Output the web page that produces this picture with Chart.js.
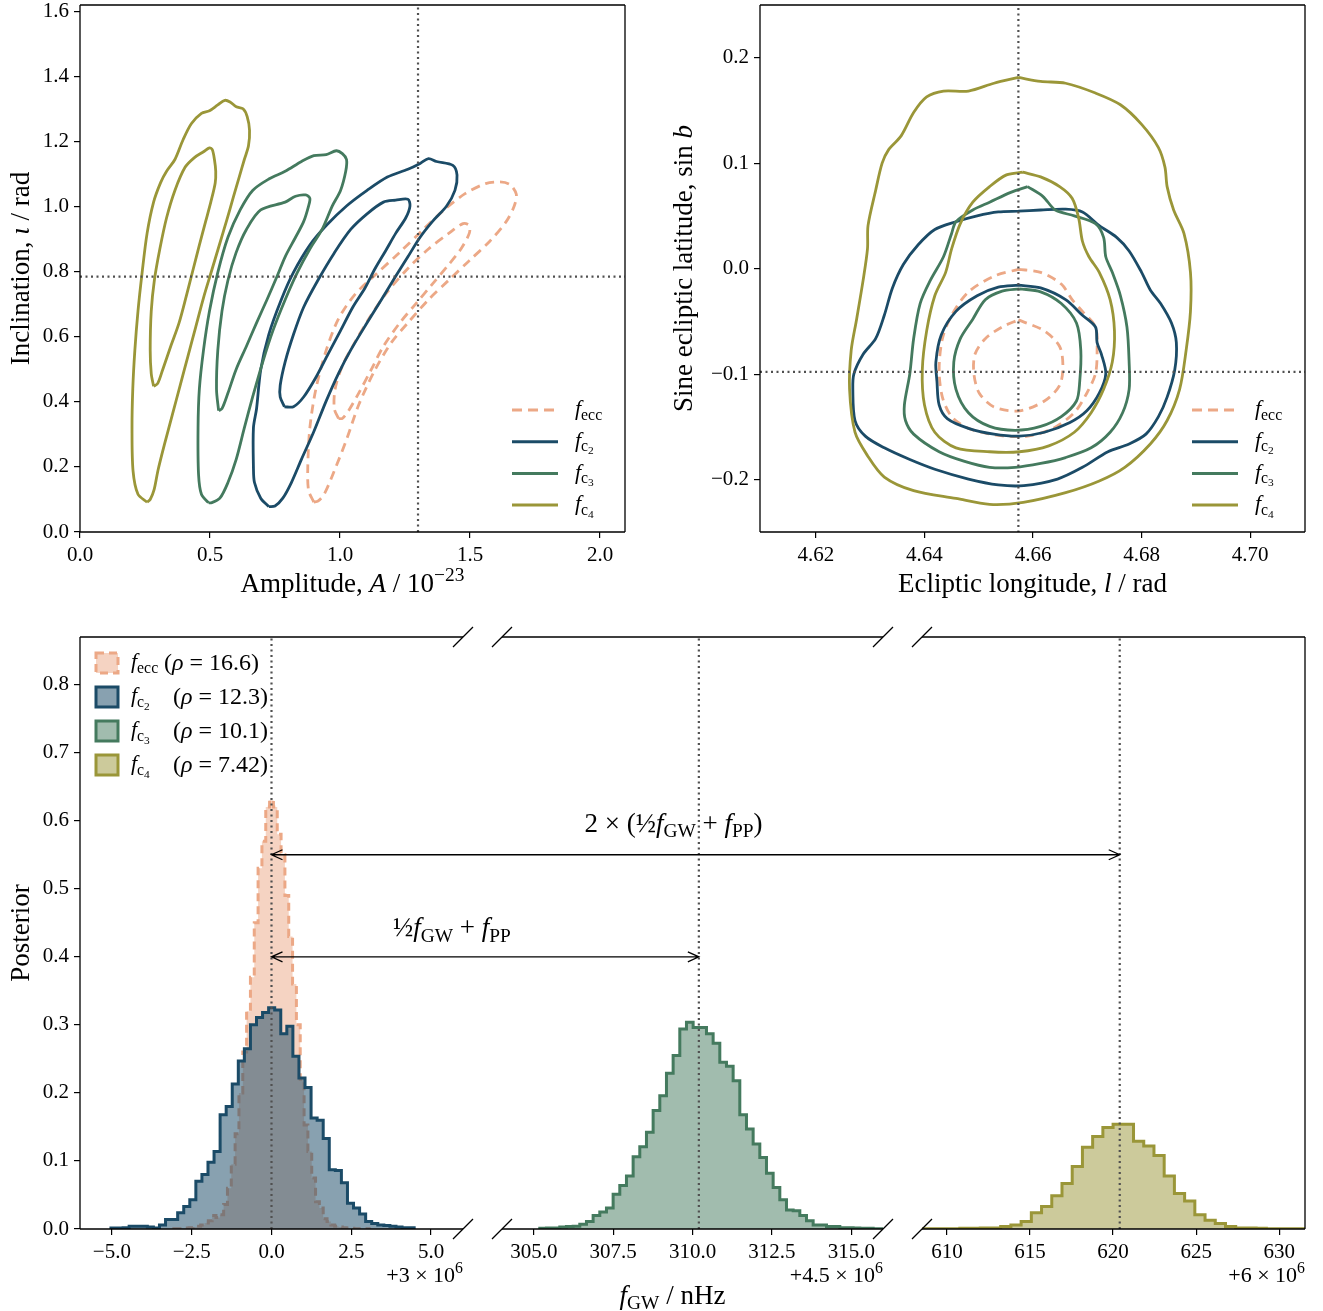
<!DOCTYPE html>
<html>
<head>
<meta charset="utf-8">
<script src="https://cdn.jsdelivr.net/npm/chart.js@4.4.1/dist/chart.umd.min.js"></script>
<style>
  body { margin: 0; background: #fff; }
  #wrap { position: relative; width: 1323px; height: 1311px; }
  canvas { position: absolute; }
</style>
</head>
<body>
<div id="wrap">
  <canvas id="ampInc" width="660" height="610" style="left:0;top:0"></canvas>
  <canvas id="sky" width="663" height="610" style="left:660px;top:0"></canvas>
  <canvas id="hist1" width="480" height="691" style="left:0;top:620px"></canvas>
  <canvas id="hist2" width="420" height="691" style="left:480px;top:620px"></canvas>
  <canvas id="hist3" width="423" height="691" style="left:900px;top:620px"></canvas>
  <canvas id="overlay" width="1323" height="1311" style="left:0;top:0;pointer-events:none"></canvas>
</div>
<script>
// FONTS / COLOURS
// -----------------------------
const SERIF = "'Liberation Serif', 'DejaVu Serif', serif";
const COLORS = { ecc: '#eca886', c2: '#1b4b67', c3: '#447a5e', c4: '#9a9638' };
const FILLS = { ecc: 'rgba(236,168,134,0.5)', c2: 'rgba(27,75,103,0.52)', c3: 'rgba(68,122,94,0.5)', c4: 'rgba(154,150,56,0.5)' };

// TRUE VALUES (dotted lines)
// -----------------------------
const trueAmp = 1.3;
const trueInc = 0.785;
const trueLon = 4.6573;
const trueSinLat = -0.0976;
const trueFreq = [0.0, 310.2, 620.4];

// TICKS
// -----------------------------
const ampTicks = [0.0, 0.5, 1.0, 1.5, 2.0];
const incTicks = [0.0, 0.2, 0.4, 0.6, 0.8, 1.0, 1.2, 1.4, 1.6];
const lonTicks = [4.62, 4.64, 4.66, 4.68, 4.70];
const latTicks = [-0.2, -0.1, 0.0, 0.1, 0.2];
const postTicks = [0.0, 0.1, 0.2, 0.3, 0.4, 0.5, 0.6, 0.7, 0.8];
const freqTicks1 = [-5.0, -2.5, 0.0, 2.5, 5.0];
const freqTicks2 = [305.0, 307.5, 310.0, 312.5, 315.0];
const freqTicks3 = [610, 615, 620, 625, 630];

// CONTOURS: amplitude (1e-23) vs inclination (rad), 50% / 90% levels
// -----------------------------
const ampIncC4Outer = [[0.258,0.092],[0.223,0.116],[0.204,0.188],[0.200,0.320],[0.203,0.440],[0.211,0.559],[0.223,0.679],[0.239,0.798],[0.258,0.918],[0.283,1.014],[0.310,1.074],[0.333,1.109],[0.365,1.145],[0.396,1.205],[0.428,1.255],[0.467,1.287],[0.498,1.295],[0.530,1.313],[0.557,1.327],[0.577,1.322],[0.601,1.307],[0.627,1.301],[0.643,1.277],[0.652,1.235],[0.648,1.187],[0.632,1.145],[0.612,1.090],[0.590,1.030],[0.565,0.960],[0.535,0.880],[0.505,0.800],[0.475,0.720],[0.445,0.630],[0.415,0.540],[0.385,0.450],[0.355,0.360],[0.325,0.270],[0.300,0.190],[0.285,0.130],[0.270,0.100],[0.258,0.092]];
const ampIncC4Inner = [[0.283,0.448],[0.274,0.487],[0.270,0.559],[0.274,0.679],[0.286,0.774],[0.307,0.870],[0.333,0.966],[0.365,1.050],[0.404,1.121],[0.440,1.151],[0.475,1.169],[0.498,1.181],[0.509,1.175],[0.517,1.145],[0.522,1.109],[0.520,1.073],[0.503,1.014],[0.483,0.954],[0.459,0.882],[0.436,0.810],[0.409,0.726],[0.381,0.643],[0.349,0.571],[0.318,0.499],[0.299,0.457],[0.283,0.448]];
const ampIncC3Outer = [[0.494,0.090],[0.467,0.116],[0.456,0.176],[0.454,0.320],[0.459,0.439],[0.475,0.559],[0.498,0.679],[0.530,0.798],[0.569,0.906],[0.616,0.990],[0.664,1.050],[0.726,1.085],[0.789,1.109],[0.852,1.139],[0.899,1.157],[0.947,1.160],[0.986,1.172],[1.009,1.163],[1.025,1.145],[1.022,1.109],[1.002,1.050],[0.970,1.002],[0.931,0.930],[0.884,0.870],[0.836,0.798],[0.789,0.714],[0.742,0.619],[0.703,0.523],[0.664,0.415],[0.632,0.320],[0.601,0.224],[0.569,0.152],[0.538,0.104],[0.506,0.090],[0.494,0.090]];
const ampIncC3Inner = [[0.533,0.373],[0.525,0.439],[0.530,0.559],[0.546,0.679],[0.569,0.774],[0.600,0.858],[0.640,0.930],[0.695,0.990],[0.789,1.014],[0.829,1.032],[0.868,1.036],[0.884,1.026],[0.879,1.002],[0.860,0.954],[0.829,0.906],[0.789,0.846],[0.758,0.786],[0.719,0.714],[0.679,0.643],[0.640,0.571],[0.600,0.499],[0.569,0.427],[0.546,0.379],[0.533,0.373]];
const ampIncC2Outer = [[0.726,0.078],[0.695,0.104],[0.671,0.152],[0.667,0.200],[0.667,0.320],[0.679,0.379],[0.695,0.499],[0.726,0.607],[0.774,0.714],[0.821,0.798],[0.884,0.882],[0.947,0.942],[1.025,1.002],[1.104,1.050],[1.182,1.091],[1.261,1.115],[1.308,1.133],[1.340,1.148],[1.371,1.139],[1.434,1.127],[1.450,1.097],[1.442,1.050],[1.410,1.002],[1.355,0.954],[1.308,0.906],[1.261,0.846],[1.214,0.786],[1.159,0.714],[1.104,0.643],[1.041,0.559],[0.994,0.487],[0.947,0.403],[0.899,0.308],[0.852,0.224],[0.813,0.152],[0.780,0.104],[0.750,0.080],[0.726,0.078]];
const ampIncC2Inner = [[0.786,0.385],[0.770,0.415],[0.770,0.451],[0.789,0.523],[0.821,0.607],[0.860,0.691],[0.915,0.774],[0.978,0.858],[1.041,0.930],[1.104,0.978],[1.167,1.014],[1.214,1.020],[1.261,1.023],[1.269,1.002],[1.253,0.966],[1.214,0.918],[1.175,0.864],[1.135,0.810],[1.096,0.750],[1.049,0.691],[1.002,0.619],[0.954,0.547],[0.907,0.475],[0.860,0.415],[0.821,0.385],[0.786,0.385]];
const ampIncEccOuter = [[0.899,0.092],[0.879,0.128],[0.876,0.200],[0.884,0.320],[0.907,0.439],[0.947,0.559],[0.994,0.655],[1.057,0.730],[1.135,0.790],[1.230,0.860],[1.320,0.930],[1.400,0.990],[1.481,1.040],[1.560,1.071],[1.615,1.076],[1.654,1.068],[1.678,1.038],[1.670,1.002],[1.639,0.954],[1.576,0.894],[1.497,0.834],[1.418,0.774],[1.340,0.714],[1.261,0.643],[1.198,0.583],[1.135,0.499],[1.072,0.391],[1.025,0.284],[0.978,0.188],[0.939,0.116],[0.915,0.095],[0.899,0.092]];
const ampIncEccInner = [[0.994,0.349],[0.978,0.379],[0.981,0.439],[1.009,0.511],[1.057,0.583],[1.120,0.667],[1.182,0.738],[1.261,0.810],[1.340,0.870],[1.418,0.918],[1.473,0.948],[1.497,0.942],[1.497,0.918],[1.465,0.870],[1.418,0.822],[1.355,0.762],[1.292,0.702],[1.230,0.643],[1.167,0.571],[1.120,0.499],[1.072,0.427],[1.033,0.373],[1.009,0.349],[0.994,0.349]];

// CONTOURS: ecliptic longitude (rad) vs sine ecliptic latitude
// -----------------------------
const skyC4Outer = [[4.6573,0.1815],[4.6614,0.1778],[4.6660,0.1760],[4.6715,0.1667],[4.6761,0.1556],[4.6800,0.1370],[4.6831,0.1150],[4.6843,0.0965],[4.6847,0.0780],[4.6859,0.0558],[4.6878,0.0336],[4.6890,-0.0033],[4.6890,-0.0403],[4.6882,-0.0773],[4.6870,-0.1142],[4.6847,-0.1438],[4.6816,-0.1660],[4.6769,-0.1882],[4.6722,-0.2011],[4.6660,-0.2122],[4.6582,-0.2214],[4.6520,-0.2233],[4.6458,-0.2177],[4.6380,-0.2103],[4.6326,-0.1974],[4.6295,-0.1771],[4.6272,-0.1549],[4.6262,-0.1142],[4.6265,-0.0773],[4.6275,-0.0477],[4.6287,-0.0107],[4.6295,0.0189],[4.6296,0.0410],[4.6310,0.0743],[4.6322,0.1002],[4.6334,0.1131],[4.6357,0.1261],[4.6380,0.1482],[4.6404,0.1630],[4.6435,0.1686],[4.6481,0.1686],[4.6528,0.1760],[4.6573,0.1815]];
const skyC4Inner = [[4.6581,0.0917],[4.6614,0.0872],[4.6649,0.0780],[4.6672,0.0669],[4.6684,0.0484],[4.6691,0.0262],[4.6703,0.0115],[4.6722,-0.0033],[4.6742,-0.0292],[4.6750,-0.0588],[4.6746,-0.0884],[4.6730,-0.1142],[4.6707,-0.1364],[4.6676,-0.1549],[4.6629,-0.1678],[4.6575,-0.1734],[4.6520,-0.1734],[4.6458,-0.1697],[4.6419,-0.1549],[4.6400,-0.1290],[4.6396,-0.0957],[4.6404,-0.0588],[4.6419,-0.0255],[4.6439,-0.0033],[4.6450,0.0189],[4.6466,0.0429],[4.6489,0.0632],[4.6520,0.0780],[4.6551,0.0891],[4.6581,0.0917]];
const skyC3Outer = [[4.6590,0.0780],[4.6618,0.0688],[4.6641,0.0558],[4.6676,0.0503],[4.6715,0.0429],[4.6730,0.0299],[4.6734,0.0115],[4.6746,-0.0033],[4.6761,-0.0255],[4.6773,-0.0551],[4.6777,-0.0884],[4.6777,-0.1142],[4.6765,-0.1364],[4.6742,-0.1549],[4.6707,-0.1697],[4.6660,-0.1789],[4.6614,-0.1845],[4.6567,-0.1882],[4.6520,-0.1882],[4.6474,-0.1826],[4.6427,-0.1734],[4.6380,-0.1567],[4.6365,-0.1438],[4.6363,-0.1290],[4.6373,-0.0994],[4.6380,-0.0662],[4.6392,-0.0329],[4.6411,-0.0107],[4.6435,0.0115],[4.6450,0.0336],[4.6458,0.0447],[4.6489,0.0558],[4.6520,0.0632],[4.6559,0.0725],[4.6590,0.0780]];
const skyC3Inner = [[4.6575,-0.0189],[4.6614,-0.0218],[4.6652,-0.0329],[4.6680,-0.0514],[4.6688,-0.0773],[4.6686,-0.1068],[4.6680,-0.1253],[4.6652,-0.1401],[4.6614,-0.1494],[4.6567,-0.1531],[4.6520,-0.1494],[4.6481,-0.1364],[4.6458,-0.1142],[4.6454,-0.0884],[4.6466,-0.0662],[4.6489,-0.0477],[4.6512,-0.0292],[4.6543,-0.0211],[4.6575,-0.0189]];
const skyC2Outer = [[4.6573,0.0547],[4.6614,0.0558],[4.6660,0.0566],[4.6691,0.0540],[4.6722,0.0410],[4.6754,0.0299],[4.6777,0.0170],[4.6800,-0.0033],[4.6816,-0.0200],[4.6835,-0.0329],[4.6855,-0.0514],[4.6864,-0.0699],[4.6861,-0.0958],[4.6847,-0.1216],[4.6831,-0.1401],[4.6808,-0.1567],[4.6777,-0.1660],[4.6738,-0.1734],[4.6691,-0.1882],[4.6645,-0.1993],[4.6583,-0.2055],[4.6536,-0.2048],[4.6481,-0.1993],[4.6419,-0.1900],[4.6373,-0.1808],[4.6326,-0.1697],[4.6291,-0.1586],[4.6272,-0.1438],[4.6268,-0.1142],[4.6270,-0.0995],[4.6287,-0.0810],[4.6310,-0.0662],[4.6326,-0.0440],[4.6341,-0.0181],[4.6361,0.0041],[4.6388,0.0226],[4.6419,0.0373],[4.6458,0.0447],[4.6497,0.0503],[4.6536,0.0540],[4.6573,0.0547]];
const skyC2Inner = [[4.6573,-0.0155],[4.6614,-0.0181],[4.6660,-0.0292],[4.6691,-0.0440],[4.6715,-0.0551],[4.6718,-0.0699],[4.6726,-0.0810],[4.6734,-0.0995],[4.6722,-0.1179],[4.6699,-0.1346],[4.6668,-0.1457],[4.6621,-0.1549],[4.6575,-0.1586],[4.6528,-0.1567],[4.6481,-0.1512],[4.6442,-0.1420],[4.6427,-0.1290],[4.6423,-0.1068],[4.6421,-0.0884],[4.6431,-0.0625],[4.6458,-0.0403],[4.6497,-0.0255],[4.6536,-0.0174],[4.6573,-0.0155]];
const skyEccOuter = [[4.6573,-0.0004],[4.6614,-0.0033],[4.6652,-0.0144],[4.6672,-0.0292],[4.6691,-0.0403],[4.6715,-0.0551],[4.6718,-0.0773],[4.6715,-0.0994],[4.6699,-0.1179],[4.6676,-0.1364],[4.6637,-0.1512],[4.6590,-0.1586],[4.6536,-0.1579],[4.6481,-0.1512],[4.6450,-0.1401],[4.6433,-0.1216],[4.6427,-0.0957],[4.6433,-0.0662],[4.6450,-0.0440],[4.6481,-0.0218],[4.6528,-0.0070],[4.6573,-0.0004]];
const skyEccInner = [[4.6573,-0.0484],[4.6621,-0.0588],[4.6649,-0.0736],[4.6655,-0.0920],[4.6649,-0.1105],[4.6621,-0.1253],[4.6575,-0.1346],[4.6528,-0.1309],[4.6501,-0.1179],[4.6491,-0.0994],[4.6493,-0.0810],[4.6512,-0.0662],[4.6543,-0.0551],[4.6573,-0.0484]];

// HISTOGRAMS: f_GW posterior, bin start / width / heights
// -----------------------------
const eccBinStart = -3.06, eccBinWidth = 0.12;
const eccHist = [0.0003,0.0005,0.001,0.0015,0.002,0.003,0.004,0.006,0.009,0.012,
  0.020,0.017,0.021,0.036,0.060,0.095,0.140,0.200,0.260,0.320,
  0.370,0.450,0.530,0.570,0.620,0.630,0.620,0.580,0.550,0.490,
  0.430,0.360,0.300,0.220,0.153,0.114,0.075,0.040,0.031,0.015,
  0.011,0.006,0.004,0.003,0.002,0.0015,0.001,0.0005,0.0005,0.0003,0.0003];
const c2BinStart = -5.03, c2BinWidth = 0.19;
const c2Hist = [0.0015,0.0015,0.002,0.004,0.004,0.004,0.003,0.0015,0.006,0.014,
  0.014,0.024,0.033,0.043,0.070,0.080,0.098,0.114,0.168,0.180,
  0.213,0.247,0.265,0.300,0.311,0.318,0.325,0.322,0.287,0.298,
  0.254,0.222,0.208,0.163,0.160,0.133,0.087,0.086,0.068,0.038,
  0.031,0.022,0.011,0.008,0.006,0.005,0.004,0.003,0.002,0.002];
const c3BinStart = 305.19, c3BinWidth = 0.21;
const c3Hist = [0.001,0.0015,0.0015,0.003,0.0035,0.004,0.007,0.011,0.020,0.025,
  0.031,0.051,0.064,0.078,0.106,0.121,0.142,0.174,0.196,0.229,
  0.255,0.294,0.304,0.296,0.296,0.287,0.273,0.245,0.239,0.218,
  0.168,0.147,0.125,0.105,0.082,0.061,0.043,0.028,0.027,0.020,
  0.012,0.006,0.006,0.0035,0.0035,0.002,0.002,0.0015,0.001,0.001,
  0.0005,0.0005];
const c4BinStart = 608.315, c4BinWidth = 0.615;
const c4Hist = [0.0003,0.0005,0.0005,0.0005,0.001,0.001,0.0015,0.0015,0.0035,0.006,
  0.011,0.024,0.033,0.049,0.067,0.092,0.120,0.136,0.149,0.154,
  0.154,0.129,0.122,0.108,0.078,0.052,0.041,0.021,0.013,0.008,
  0.0035,0.0015,0.0015,0.001,0.0005,0.0005,0.0003,0.0003];

const snr = { ecc: '16.6', c2: '12.3', c3: '10.1', c4: '7.42' };

// HELPERS
// -----------------------------
// draws a row of text pieces: [text, style] with style '', 'i' (italic), 'sub', 'ss' (sub-sub), 'sup'
function rich(ctx, segs, x, y, size, align, rot) {
  const items = segs.map(([t, st = '']) => {
    let sz = size, dy = 0;
    if (st.includes('sub')) { sz = size * 0.72; dy = size * 0.2; }
    if (st.includes('ss')) { sz = size * 0.52; dy = size * 0.33; }
    if (st.includes('sup')) { sz = size * 0.72; dy = -size * 0.4; }
    const font = (st.includes('i') ? 'italic ' : '') + sz.toFixed(1) + 'px ' + SERIF;
    ctx.font = font;
    return { t, font, dy, w: ctx.measureText(t).width };
  });
  const total = items.reduce((a, b) => a + b.w, 0);
  ctx.save();
  ctx.translate(x, y);
  if (rot) ctx.rotate(rot);
  let cx = align === 'left' ? 0 : align === 'right' ? -total : -total / 2;
  ctx.textBaseline = 'alphabetic';
  ctx.textAlign = 'left';
  ctx.fillStyle = '#000';
  items.forEach(it => { ctx.font = it.font; ctx.fillText(it.t, cx, size * 0.33 + it.dy); cx += it.w; });
  ctx.restore();
}

const fLabel = {
  ecc: [['f', 'i'], ['ecc', 'sub']],
  c2: [['f', 'i'], ['c', 'sub'], ['2', 'ss']],
  c3: [['f', 'i'], ['c', 'sub'], ['3', 'ss']],
  c4: [['f', 'i'], ['c', 'sub'], ['4', 'ss']],
};

const fmt1 = v => v.toFixed(1).replace('-', '\u2212');
const fmt2 = v => v.toFixed(2).replace('-', '\u2212');
const fmt0 = v => v.toFixed(0);

// axis with fixed ticks; afterFit pins the axis box size and drops the auto label padding
function axis(min, max, ticks, fmt, size, show) {
  return {
    type: 'linear', min, max, display: show !== false,
    grid: { drawOnChartArea: false, drawTicks: true, tickLength: 6, color: '#000', lineWidth: 1.2 },
    border: { display: false },
    ticks: { font: { family: SERIF, size: 21 }, color: '#000', padding: 5, autoSkip: false, maxRotation: 0,
      callback: v => fmt(v) },
    afterBuildTicks: s => { s.ticks = ticks.map(v => ({ value: v })); },
    afterFit: s => {
      if (s.isHorizontal()) s.height = size; else s.width = size;
      s.paddingTop = 0; s.paddingBottom = 0; s.paddingLeft = 0; s.paddingRight = 0;
    },
  };
}

function spines(ctx, a, sides) {
  ctx.save();
  ctx.strokeStyle = '#000';
  ctx.lineWidth = 1.3;
  ctx.beginPath();
  if (sides.includes('l')) { ctx.moveTo(a.left, a.top); ctx.lineTo(a.left, a.bottom); }
  if (sides.includes('r')) { ctx.moveTo(a.right, a.top); ctx.lineTo(a.right, a.bottom); }
  if (sides.includes('t')) { ctx.moveTo(a.left, a.top); ctx.lineTo(a.right, a.top); }
  if (sides.includes('b')) { ctx.moveTo(a.left, a.bottom); ctx.lineTo(a.right, a.bottom); }
  ctx.stroke();
  ctx.restore();
}

function breakMarks(ctx, a, side) {
  const x = side === 'l' ? a.left : a.right;
  ctx.save();
  ctx.strokeStyle = '#000';
  ctx.lineWidth = 1.3;
  ctx.beginPath();
  [a.top, a.bottom].forEach(y => { ctx.moveTo(x - 10, y + 10); ctx.lineTo(x + 10, y - 10); });
  ctx.stroke();
  ctx.restore();
}

function contour(pts, color, dashed) {
  return {
    data: pts.map(p => ({ x: p[0], y: p[1] })),
    showLine: true, borderColor: color, borderWidth: 2.8, pointRadius: 0,
    tension: 0.3, fill: false, borderDash: dashed ? [9, 6] : [],
  };
}

function dotted(pts) {
  return { data: pts, showLine: true, borderColor: '#505050', borderWidth: 2.2, borderDash: [2, 3.5], pointRadius: 0, fill: false };
}

function hist(start, width, vals, color, fillColor, dashed, order) {
  const pts = [{ x: start, y: 0 }];
  vals.forEach((v, i) => pts.push({ x: start + i * width, y: v }));
  pts.push({ x: start + vals.length * width, y: 0 });
  return {
    data: pts, showLine: true, stepped: 'before', borderColor: color, backgroundColor: fillColor,
    fill: 'origin', borderWidth: 3, pointRadius: 0, borderDash: dashed ? [8, 5] : [], order,
  };
}

function lineLegend(ctx, a) {
  ['ecc', 'c2', 'c3', 'c4'].forEach((k, i) => {
    const y = a.bottom - 122 + i * 31.7;
    ctx.save();
    ctx.strokeStyle = COLORS[k];
    ctx.lineWidth = 3;
    ctx.setLineDash(k === 'ecc' ? [10, 6] : []);
    ctx.beginPath();
    ctx.moveTo(a.right - 113, y);
    ctx.lineTo(a.right - 67, y);
    ctx.stroke();
    ctx.restore();
    rich(ctx, fLabel[k], a.right - 50, y - 2, 22, 'left');
  });
}

function make(id, datasets, scales, padding, draw) {
  return new Chart(document.getElementById(id), {
    type: 'scatter',
    data: { datasets },
    options: {
      responsive: false, animation: false, devicePixelRatio: 1,
      layout: { padding },
      plugins: { legend: { display: false }, tooltip: { enabled: false } },
      scales,
    },
    plugins: [{ id: 'deco', afterDraw: chart => draw(chart.ctx, chart.chartArea) }],
  });
}

const LABEL = 27;

// CHART 1: amplitude / inclination
// -----------------------------
const ampInc = make('ampInc', [
  dotted([{ x: trueAmp, y: 0 }, { x: trueAmp, y: 1.62 }]),
  dotted([{ x: 0, y: trueInc }, { x: 2.096, y: trueInc }]),
  contour(ampIncC4Outer, COLORS.c4), contour(ampIncC4Inner, COLORS.c4),
  contour(ampIncC3Outer, COLORS.c3), contour(ampIncC3Inner, COLORS.c3),
  contour(ampIncC2Outer, COLORS.c2), contour(ampIncC2Inner, COLORS.c2),
  contour(ampIncEccOuter, COLORS.ecc, true), contour(ampIncEccInner, COLORS.ecc, true),
], {
  x: axis(0, 2.096, ampTicks, fmt1, 78),
  y: axis(0, 1.62, incTicks, fmt1, 80),
}, { top: 5, right: 35, left: 0, bottom: 0 }, (ctx, a) => {
  spines(ctx, a, 'lrtb');
  lineLegend(ctx, a);
  rich(ctx, [['Amplitude, '], ['A', 'i'], [' / 10'], ['\u221223', 'sup']], (a.left + a.right) / 2, a.bottom + 51, LABEL, 'center');
  rich(ctx, [['Inclination, '], ['\u03b9', 'i'], [' / rad']], a.left - 60, (a.top + a.bottom) / 2, LABEL, 'center', -Math.PI / 2);
});

// CHART 2: sky position
// -----------------------------
const sky = make('sky', [
  dotted([{ x: trueLon, y: -0.25 }, { x: trueLon, y: 0.25 }]),
  dotted([{ x: 4.6097, y: trueSinLat }, { x: 4.7101, y: trueSinLat }]),
  contour(skyC4Outer, COLORS.c4), contour(skyC4Inner, COLORS.c4),
  contour(skyC3Outer, COLORS.c3), contour(skyC3Inner, COLORS.c3),
  contour(skyC2Outer, COLORS.c2), contour(skyC2Inner, COLORS.c2),
  contour(skyEccOuter, COLORS.ecc, true), contour(skyEccInner, COLORS.ecc, true),
], {
  x: axis(4.6097, 4.7101, lonTicks, fmt2, 78),
  y: axis(-0.2495, 0.2502, latTicks, fmt1, 100),
}, { top: 5, right: 18, left: 0, bottom: 0 }, (ctx, a) => {
  spines(ctx, a, 'lrtb');
  lineLegend(ctx, a);
  rich(ctx, [['Ecliptic longitude, '], ['l', 'i'], [' / rad']], (a.left + a.right) / 2, a.bottom + 51, LABEL, 'center');
  rich(ctx, [['Sine ecliptic latitude, sin '], ['b', 'i']], a.left - 77, (a.top + a.bottom) / 2, LABEL, 'center', -Math.PI / 2);
});

// CHARTS 3-5: frequency posteriors (broken axis)
// -----------------------------
function offsetText(ctx, a, txt) {
  rich(ctx, [[txt], ['6', 'sup']], a.right, a.bottom + 46, 22, 'right');
}

const hist1 = make('hist1', [
  dotted([{ x: trueFreq[0], y: 0 }, { x: trueFreq[0], y: 0.87 }]),
  hist(c2BinStart, c2BinWidth, c2Hist, COLORS.c2, FILLS.c2, false, 1),
  hist(eccBinStart, eccBinWidth, eccHist, COLORS.ecc, FILLS.ecc, true, 2),
], {
  x: axis(-6, 6, freqTicks1, fmt1, 82),
  y: axis(0, 0.87, postTicks, fmt1, 80),
}, { top: 17, right: 17, left: 0, bottom: 0 }, (ctx, a) => {
  spines(ctx, a, 'ltb');
  breakMarks(ctx, a, 'r');
  offsetText(ctx, a, '+3 \u00d7 10');
  rich(ctx, [['Posterior']], a.left - 60, (a.top + a.bottom) / 2, LABEL, 'center', -Math.PI / 2);
  // legend
  ['ecc', 'c2', 'c3', 'c4'].forEach((k, i) => {
    const y = a.top + 26 + i * 34;
    ctx.save();
    ctx.fillStyle = FILLS[k];
    ctx.strokeStyle = COLORS[k];
    ctx.lineWidth = 3;
    ctx.setLineDash(k === 'ecc' ? [8, 5] : []);
    ctx.fillRect(a.left + 16, y - 10, 22, 20);
    ctx.strokeRect(a.left + 16, y - 10, 22, 20);
    ctx.restore();
    rich(ctx, fLabel[k], a.left + 51, y - 2, 22, 'left');
    rich(ctx, [['('], ['\u03c1', 'i'], [' = ' + snr[k] + ')']], a.left + (k === 'ecc' ? 84 : 93), y - 1, 24, 'left');
  });
});

const hist2 = make('hist2', [
  dotted([{ x: trueFreq[1], y: 0 }, { x: trueFreq[1], y: 0.87 }]),
  hist(c3BinStart, c3BinWidth, c3Hist, COLORS.c3, FILLS.c3, false, 1),
], {
  x: axis(304, 316, freqTicks2, fmt1, 82),
  y: axis(0, 0.87, postTicks, fmt1, 0, false),
}, { top: 17, right: 17, left: 22, bottom: 0 }, (ctx, a) => {
  spines(ctx, a, 'tb');
  breakMarks(ctx, a, 'l');
  breakMarks(ctx, a, 'r');
  offsetText(ctx, a, '+4.5 \u00d7 10');
  rich(ctx, [['f', 'i'], ['GW', 'sub'], [' / nHz']], (a.left + a.right) / 2 - 20, a.bottom + 66, LABEL, 'center');
});

const hist3 = make('hist3', [
  dotted([{ x: trueFreq[2], y: 0 }, { x: trueFreq[2], y: 0.87 }]),
  hist(c4BinStart, c4BinWidth, c4Hist, COLORS.c4, FILLS.c4, false, 1),
], {
  x: axis(608.5, 631.55, freqTicks3, fmt0, 82),
  y: axis(0, 0.87, postTicks, fmt1, 0, false),
}, { top: 17, right: 18, left: 22, bottom: 0 }, (ctx, a) => {
  spines(ctx, a, 'rtb');
  breakMarks(ctx, a, 'l');
  offsetText(ctx, a, '+6 \u00d7 10');
});

// OVERLAY: arrows between the three panels
// -----------------------------
(function () {
  const ov = document.getElementById('overlay').getContext('2d');
  const panels = [[hist1, 0], [hist2, 480], [hist3, 900]];
  const P = (i, xv, yv) => [panels[i][1] + panels[i][0].scales.x.getPixelForValue(xv), 620 + hist1.scales.y.getPixelForValue(yv)];

  function arrow(a, b) {
    ov.save();
    ov.strokeStyle = '#000';
    ov.lineWidth = 1.3;
    ov.beginPath();
    ov.moveTo(a[0], a[1]); ov.lineTo(b[0], b[1]);
    ov.moveTo(a[0] + 11, a[1] - 5); ov.lineTo(a[0], a[1]); ov.lineTo(a[0] + 11, a[1] + 5);
    ov.moveTo(b[0] - 11, b[1] - 5); ov.lineTo(b[0], b[1]); ov.lineTo(b[0] - 11, b[1] + 5);
    ov.stroke();
    ov.restore();
  }
  arrow(P(0, trueFreq[0], 0.55), P(2, trueFreq[2], 0.55));
  arrow(P(0, trueFreq[0], 0.40), P(1, trueFreq[1], 0.40));

  const t1 = P(1, 309.4, 0.597);
  rich(ov, [['2 \u00d7 ('], ['\u00bd'], ['f', 'i'], ['GW', 'sub'], [' + '], ['f', 'i'], ['PP', 'sub'], [')']], t1[0], t1[1], 27, 'center');
  const t2 = P(0, 5.65, 0.443);
  rich(ov, [['\u00bd'], ['f', 'i'], ['GW', 'sub'], [' + '], ['f', 'i'], ['PP', 'sub']], t2[0], t2[1], 27, 'center');
})();
</script>
</body>
</html>
